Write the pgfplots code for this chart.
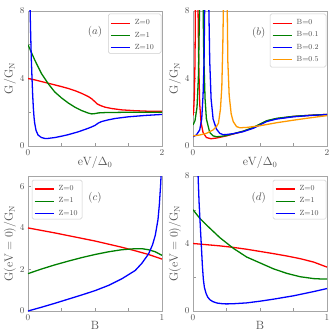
\documentclass[border=0pt]{standalone}
\usepackage{pgfplots}
\pgfplotsset{compat=1.18}
\definecolor{cR}{HTML}{FF0000}
\definecolor{cG}{HTML}{008000}
\definecolor{cB}{HTML}{0000FF}
\definecolor{cO}{HTML}{FF9900}
\definecolor{txt}{HTML}{505050}

\pgfplotsset{
  panel/.style={
    scale only axis, width=134bp, height=135bp,
    axis line style={black!35, line width=0.6pt},
    tick style={black!40, line width=0.5pt},
    major tick length=3bp,
    tick align=inside,
    xtick pos=bottom, ytick pos=left,
    ticklabel style={font=\fontsize{9}{10}\selectfont, text=txt},
    label style={font=\fontsize{12}{13}\selectfont, text=txt},
    xlabel style={at={(axis description cs:0.5,-0.08)}, anchor=north, inner sep=0pt},
    ylabel style={at={(axis description cs:-0.135,0.5)}, anchor=center, inner sep=0pt},
  },
}
\tikzset{plab/.style={font=\fontsize{11}{12}\selectfont, text=txt}}
% legend: a box and one node per row (sample line + label)
\newcommand{\li}[2]{\textcolor{#1}{\rule[1pt]{19bp}{1.3pt}}\hspace{5bp}\textcolor{txt}{#2}}
\newcommand{\lgbox}[4]{\draw[black!20, line width=0.5pt, rounded corners=1.5pt, fill=white]
  (rel axis cs:#1,#2) rectangle (rel axis cs:#3,#4);}
\newcommand{\lgrow}[4]{\node[anchor=west, inner sep=0pt, font=\fontsize{7.5}{8}\selectfont]
  at (rel axis cs:#1,#2) {\li{#3}{#4}};}

\begin{document}
\begin{tikzpicture}
\useasboundingbox (0,0) rectangle (336bp,-336bp);

%---------------- (a)
\begin{axis}[panel, at={(28bp,-11bp)}, anchor=north west,
  xmin=0, xmax=2, ymin=0, ymax=8,
  xtick={0,0.5,1,1.5,2}, xticklabels={0,,,,2},
  ytick={0,2,4,6,8}, yticklabels={0,,4,,8},
  xlabel={$\mathrm{eV}/\Delta_0$}, ylabel={$\mathrm{G/G_N}$}]
\addplot[cR, line width=1.3pt] coordinates {
 (0,4.0) (0.1,3.92) (0.2,3.82) (0.3,3.72) (0.4,3.62) (0.5,3.52) (0.6,3.41)
 (0.7,3.28) (0.8,3.12) (0.9,2.93) (0.95,2.8) (1.0,2.62) (1.03,2.5) (1.08,2.4)
 (1.15,2.3) (1.25,2.22) (1.4,2.14) (1.6,2.09) (1.8,2.06) (2.0,2.05)};
\addplot[cG, line width=1.3pt] coordinates {
 (0,6.0) (0.05,5.55) (0.1,5.1) (0.2,4.3) (0.3,3.7) (0.4,3.2) (0.5,2.85)
 (0.6,2.55) (0.7,2.3) (0.8,2.1) (0.9,1.95) (0.95,1.9) (1.0,1.92) (1.05,1.96)
 (1.15,1.98) (1.5,2.0) (2.0,2.0)};
\addplot[cB, line width=1.3pt] coordinates {
 (0.02,11) (0.03,8.3) (0.04,6.6) (0.05,5.1) (0.06,4.0) (0.07,3.0) (0.08,2.25)
 (0.09,1.7) (0.1,1.35) (0.12,0.92) (0.15,0.65) (0.2,0.5) (0.25,0.45) (0.3,0.45)
 (0.4,0.5) (0.5,0.58) (0.6,0.67) (0.75,0.84) (0.9,1.05) (0.95,1.13) (1.0,1.22)
 (1.05,1.36) (1.1,1.45) (1.2,1.55) (1.3,1.63) (1.5,1.73) (1.75,1.81) (2.0,1.87)};
\lgbox{0.599}{0.687}{0.993}{0.978}
\lgrow{0.617}{0.916}{cR}{Z=0}
\lgrow{0.617}{0.826}{cG}{Z=1}
\lgrow{0.617}{0.736}{cB}{Z=10}
\node[plab] at (rel axis cs:0.5,0.845) {$(a)$};
\end{axis}

%---------------- (b)
\begin{axis}[panel, at={(193bp,-11bp)}, anchor=north west,
  xmin=0, xmax=2, ymin=0, ymax=8,
  xtick={0,0.5,1,1.5,2}, xticklabels={0,,,,2},
  ytick={0,2,4,6,8}, yticklabels={0,,4,,8},
  xlabel={$\mathrm{eV}/\Delta_0$}, ylabel={$\mathrm{G/G_N}$}]
\addplot[cR, line width=1.3pt] coordinates {
 (0,1.8) (0.01,2.1) (0.02,3.0) (0.03,5.0) (0.036,8.5) (0.055,14) (0.074,8.5)
 (0.085,5.0) (0.1,2.5) (0.12,1.4) (0.15,0.8) (0.2,0.5) (0.27,0.43) (0.35,0.47)
 (0.5,0.6) (0.75,0.87) (0.9,1.08) (1.0,1.28) (1.1,1.48) (1.25,1.62) (1.5,1.75)
 (1.75,1.82) (2.0,1.87)};
\addplot[cG, line width=1.3pt] coordinates {
 (0,1.25) (0.03,1.5) (0.06,2.3) (0.08,4.0) (0.093,7.0) (0.1,8.5) (0.125,14)
 (0.15,8.5) (0.16,5.5) (0.18,2.8) (0.2,1.6) (0.25,0.8) (0.3,0.6) (0.35,0.55)
 (0.4,0.56) (0.5,0.62) (0.75,0.88) (0.9,1.1) (1.0,1.3) (1.1,1.5) (1.25,1.64)
 (1.5,1.76) (1.75,1.82) (2.0,1.87)};
\addplot[cB, line width=1.3pt] coordinates {
 (0,0.55) (0.05,0.65) (0.1,0.95) (0.13,1.6) (0.15,3.0) (0.165,5.0) (0.175,8.5)
 (0.205,14) (0.235,8.5) (0.25,5.0) (0.27,2.8) (0.3,1.6) (0.35,1.0) (0.4,0.75)
 (0.45,0.67) (0.5,0.68) (0.6,0.73) (0.75,0.85) (0.9,1.05) (1.0,1.25) (1.1,1.45)
 (1.25,1.6) (1.5,1.73) (1.75,1.81) (2.0,1.86)};
\addplot[cO, line width=1.3pt] coordinates {
 (0,0.6) (0.1,0.65) (0.2,0.75) (0.3,0.95) (0.35,1.15) (0.38,1.35) (0.41,2.2)
 (0.43,3.5) (0.445,6.0) (0.455,8.5) (0.48,14) (0.51,8.5) (0.52,5.0) (0.54,3.0)
 (0.57,1.9) (0.6,1.45) (0.65,1.15) (0.7,1.08) (0.8,1.1) (1.0,1.2) (1.25,1.38)
 (1.5,1.53) (1.75,1.67) (2.0,1.8)};
\lgbox{0.575}{0.585}{0.993}{0.978}
\lgrow{0.593}{0.916}{cR}{B=0}
\lgrow{0.593}{0.826}{cG}{B=0.1}
\lgrow{0.593}{0.735}{cB}{B=0.2}
\lgrow{0.593}{0.645}{cO}{B=0.5}
\node[plab] at (rel axis cs:0.49,0.84) {$(b)$};
\end{axis}

%---------------- (c)
\begin{axis}[panel, at={(28bp,-176bp)}, anchor=north west,
  xmin=0, xmax=1, ymin=0, ymax=6.5,
  xtick={0,0.25,0.5,0.75,1}, xticklabels={0,,,,1},
  ytick={0,2,4,6},
  xlabel={$\mathrm{B}$}, ylabel={$\mathrm{G(eV=0)/G_N}$},
  xlabel style={at={(axis description cs:0.5,-0.072)}}]
\addplot[cR, line width=1.3pt] coordinates {
 (0,4.0) (0.1,3.88) (0.2,3.76) (0.3,3.63) (0.4,3.5) (0.5,3.37) (0.6,3.22)
 (0.7,3.07) (0.8,2.9) (0.9,2.72) (1.0,2.5)};
\addplot[cG, line width=1.3pt] coordinates {
 (0,1.8) (0.1,2.02) (0.2,2.22) (0.3,2.4) (0.4,2.57) (0.5,2.72) (0.6,2.85)
 (0.7,2.95) (0.8,3.0) (0.85,3.0) (0.9,2.95) (0.95,2.85) (1.0,2.68)};
\addplot[cB, line width=1.3pt] coordinates {
 (0,0) (0.1,0.18) (0.2,0.37) (0.3,0.57) (0.4,0.77) (0.5,0.98) (0.6,1.23)
 (0.7,1.55) (0.8,1.95) (0.85,2.3) (0.9,2.75) (0.93,3.2) (0.95,3.65) (0.97,4.4)
 (0.98,5.1) (0.99,6.1) (1.0,7.5)};
\lgbox{0.03}{0.681}{0.403}{0.97}
\lgrow{0.048}{0.909}{cR}{Z=0}
\lgrow{0.048}{0.819}{cG}{Z=1}
\lgrow{0.048}{0.728}{cB}{Z=10}
\node[plab] at (rel axis cs:0.5,0.84) {$(c)$};
\end{axis}

%---------------- (d)
\begin{axis}[panel, at={(193bp,-176bp)}, anchor=north west,
  xmin=0, xmax=1, ymin=0, ymax=8,
  xtick={0,0.25,0.5,0.75,1}, xticklabels={0,,,,1},
  ytick={0,2,4,6,8}, yticklabels={0,,4,,8},
  xlabel={$\mathrm{B}$}, ylabel={$\mathrm{G(eV=0)/G_N}$},
  xlabel style={at={(axis description cs:0.5,-0.072)}}]
\addplot[cR, line width=1.3pt] coordinates {
 (0,4.0) (0.1,3.93) (0.2,3.86) (0.3,3.77) (0.4,3.66) (0.5,3.53) (0.6,3.4)
 (0.7,3.26) (0.8,3.1) (0.9,2.9) (1.0,2.6)};
\addplot[cG, line width=1.3pt] coordinates {
 (0,6.0) (0.05,5.5) (0.1,5.1) (0.2,4.35) (0.3,3.72) (0.4,3.2) (0.5,2.85)
 (0.6,2.5) (0.7,2.23) (0.8,2.03) (0.9,1.92) (0.95,1.9) (1.0,1.9)};
\addplot[cB, line width=1.3pt] coordinates {
 (0.03,10) (0.038,8.0) (0.045,6.5) (0.052,5.4) (0.06,4.2) (0.065,3.45)
 (0.07,2.7) (0.077,1.9) (0.085,1.4) (0.097,1.05) (0.11,0.82) (0.127,0.66)
 (0.15,0.55) (0.18,0.47) (0.22,0.43) (0.25,0.42) (0.3,0.43) (0.4,0.48)
 (0.5,0.58) (0.6,0.7) (0.75,0.9) (0.9,1.15) (1.0,1.33)};
\lgbox{0.597}{0.681}{0.993}{0.97}
\lgrow{0.615}{0.909}{cR}{Z=0}
\lgrow{0.615}{0.819}{cG}{Z=1}
\lgrow{0.615}{0.728}{cB}{Z=10}
\node[plab] at (rel axis cs:0.49,0.84) {$(d)$};
\end{axis}
\end{tikzpicture}
\end{document}
